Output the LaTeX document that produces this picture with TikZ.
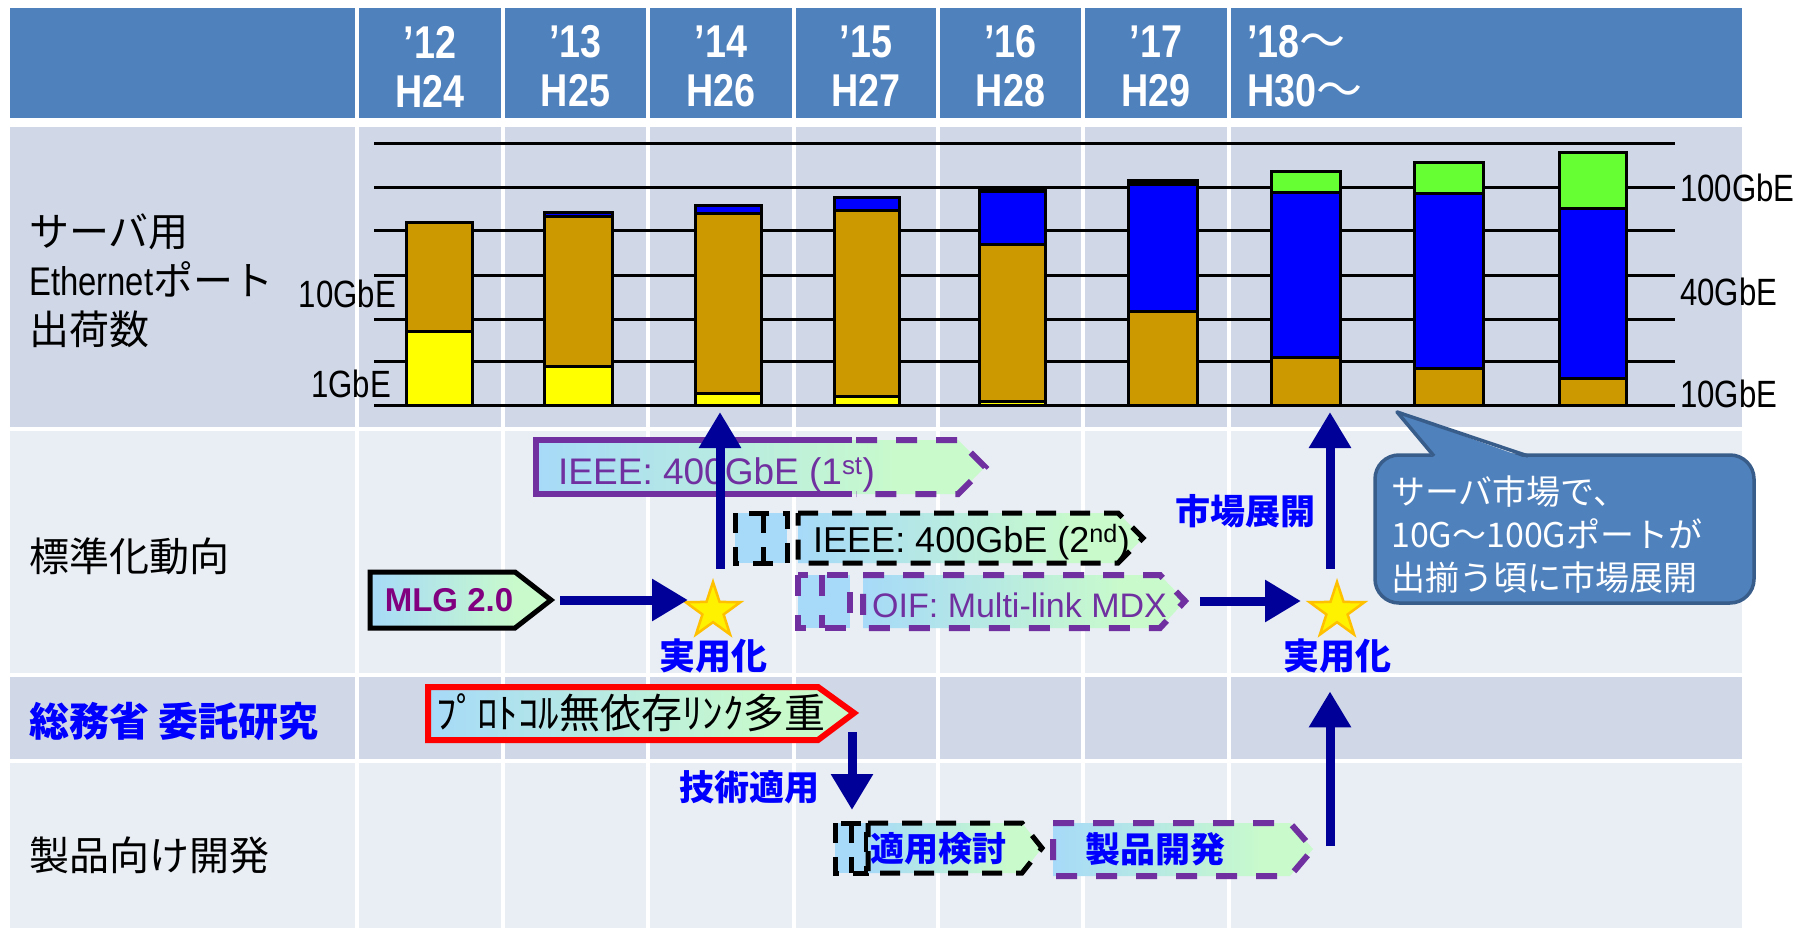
\documentclass[tikz,border=0pt]{standalone}
\usepackage{fontspec}
\setmainfont{Liberation Sans}
\newfontfamily\jp{Noto Sans CJK JP}
\newfontfamily\narrow[FakeStretch=0.82]{Liberation Sans}
\usetikzlibrary{arrows.meta,shapes.geometric}
\definecolor{hdr}{HTML}{4F81BD}
\definecolor{rowA}{HTML}{D0D8E8}
\definecolor{rowB}{HTML}{E9EDF4}
\definecolor{navy}{RGB}{0,0,153}
\definecolor{cpurple}{HTML}{7030A0}
\definecolor{mpurple}{HTML}{800080}
\definecolor{lb}{RGB}{166,218,248}
\definecolor{lg}{RGB}{200,250,204}
\definecolor{bOr}{HTML}{CC9900}
\definecolor{bYe}{HTML}{FFFF00}
\definecolor{bBl}{HTML}{0000FF}
\definecolor{bGr}{HTML}{66FF33}
\definecolor{callborder}{HTML}{385D8A}
\definecolor{starO}{HTML}{FFC000}
\pgfdeclarehorizontalshading{bluegreen}{100bp}{color(0bp)=(lb); color(25bp)=(lb); color(65bp)=(lg); color(100bp)=(lg)}
\begin{document}
\begin{tikzpicture}[x=1pt,y=-1pt,
  hd/.style={font=\narrow\bfseries\fontsize{46}{49}\selectfont, text=white, align=center, inner sep=0},
  axl/.style={font=\narrow\fontsize{38}{40}\selectfont, inner sep=0},
  lab/.style={font=\jp\fontsize{40}{49}\selectfont, inner sep=0, anchor=west, align=left},
  bl/.style={font=\jp\bfseries\fontsize{35}{40}\selectfont, text=blue, inner sep=0},
  bs/.style={draw=black, line width=3pt},
  arr/.style={draw=navy, line width=9pt, -{Triangle[length=36pt,width=40pt]}},
  boxshade/.style={shading=bluegreen},
  dashK/.style={draw=black, line width=5pt, dash pattern=on 20pt off 14pt},
  dashP/.style={draw=cpurple, line width=6pt, dash pattern=on 21pt off 19pt},
  boxtxt/.style={font=\fontsize{36}{38}\selectfont, inner sep=0, anchor=base west},
  starnode/.style={star, star points=5, star point ratio=2.6, minimum size=58pt, draw=starO, fill=yellow, line width=2.5pt, inner sep=0}
]
\useasboundingbox (0,0) rectangle (1801,928);
\fill[white] (0,0) rectangle (1801,928);
% rows
\fill[hdr] (10,8) rectangle (1742,118);
\fill[rowA] (10,127) rectangle (1742,427);
\fill[rowB] (10,431) rectangle (1742,673);
\fill[rowA] (10,677) rectangle (1742,759);
\fill[rowB] (10,763) rectangle (1742,928);
\foreach \x in {357,503,648,794,938,1083,1229}
  \draw[white, line width=3.5pt] (\x,8) -- (\x,928);
% header
\node[hd] (h12) at (430,66.5) {’12\\H24};
\node[hd] (h13) at (575.5,66.5) {’13\\H25};
\node[hd] (h14) at (721,66.5) {’14\\H26};
\node[hd] (h15) at (866,66.5) {’15\\H27};
\node[hd] (h16) at (1010.5,66.5) {’16\\H28};
\node[hd] (h17) at (1156,66.5) {’17\\H29};
\node[hd, align=left, anchor=west] (h18) at (1247,66.5) {’18{\jp\mdseries〜}\\H30{\jp\mdseries〜}};
% gridlines
\foreach \y in {144,188,230,275,319,361,405}
  \draw[line width=3pt] (374,\y) -- (1675,\y);
% bars
\draw[bs,fill=bYe] (406,405) rectangle (472,331);
\draw[bs,fill=bOr] (406,331) rectangle (472,222);
\draw[bs,fill=bYe] (544,405) rectangle (612,366);
\draw[bs,fill=bOr] (544,366) rectangle (612,217);
\draw[bs,fill=bBl] (544,217) rectangle (612,213);
\draw[bs,fill=bYe] (695,405) rectangle (761,393);
\draw[bs,fill=bOr] (695,393) rectangle (761,214);
\draw[bs,fill=bBl] (695,214) rectangle (761,206);
\draw[bs,fill=bYe] (834,405) rectangle (899,396);
\draw[bs,fill=bOr] (834,396) rectangle (899,211);
\draw[bs,fill=bBl] (834,211) rectangle (899,198);
\draw[bs,fill=bYe] (979,405) rectangle (1045,401);
\draw[bs,fill=bOr] (979,401) rectangle (1045,244);
\draw[bs,fill=bBl] (979,244) rectangle (1045,192);
\draw[bs,fill=black] (979,192) rectangle (1045,189);
\draw[bs,fill=bOr] (1128,405) rectangle (1197,311);
\draw[bs,fill=bBl] (1128,311) rectangle (1197,185);
\draw[bs,fill=black] (1128,185) rectangle (1197,181);
\draw[bs,fill=bOr] (1271,405) rectangle (1340,357);
\draw[bs,fill=bBl] (1271,357) rectangle (1340,193);
\draw[bs,fill=bGr] (1271,193) rectangle (1340,172);
\draw[bs,fill=bOr] (1414,405) rectangle (1483,368);
\draw[bs,fill=bBl] (1414,368) rectangle (1483,194);
\draw[bs,fill=bGr] (1414,194) rectangle (1483,163);
\draw[bs,fill=bOr] (1559,405) rectangle (1626,378);
\draw[bs,fill=bBl] (1559,378) rectangle (1626,209);
\draw[bs,fill=bGr] (1559,209) rectangle (1626,153);
% axis labels
\node[axl, anchor=base east] (l10) at (396,307) {10GbE};
\node[axl, anchor=base east] (l1) at (391,397) {1GbE};
\node[axl, anchor=base west] (r100) at (1680,202) {100GbE};
\node[axl, anchor=base west] (r40) at (1680,305) {40GbE};
\node[axl, anchor=base west] (r10) at (1680,407) {10GbE};
% row labels
\node[lab] (lserver) at (29,281) {サーバ用\\{\narrow Ethernet}ポート\\出荷数};
\node[lab] (lstd) at (29,556) {標準化動向};
\node[lab, font=\jp\bfseries\fontsize{40}{49}\selectfont, text=blue] (lmic) at (29,721) {総務省 委託研究};
\node[lab] (lprod) at (29,855) {製品向け開発};
% MLG box
\shadedraw[boxshade, draw=black, line width=5pt] (370,572) -- (515,572) -- (551,600) -- (515,628) -- (370,628) -- cycle;
\coordinate (mlgtip) at (551,600);
\node[font=\bfseries\fontsize{33}{35}\selectfont, text=mpurple, inner sep=0] (mlg) at (449,600) {MLG 2.0};
% IEEE 1st
\shade[boxshade] (536,440) -- (958,440) -- (985,467) -- (958,494) -- (536,494) -- cycle;
\draw[cpurple, line width=6pt] (852,440) -- (536,440) -- (536,494) -- (852,494);
\draw[dashP] (856,440) -- (958,440) -- (985,467) -- (958,494) -- (856,494);
\node[boxtxt, text=cpurple, font=\fontsize{37}{38}\selectfont] (ieee1) at (558,484) {IEEE: 400GbE (1\textsuperscript{st})};
% IEEE 2nd
\draw[dashK, fill=lb] (735,513) rectangle (787,563);
\draw[dashK] (763,513) -- (763,563);
\shadedraw[boxshade, dashK] (798,513) -- (1118,513) -- (1143,538) -- (1118,563) -- (798,563) -- cycle;
\node[boxtxt, text=black] (ieee2) at (813,552) {IEEE: 400GbE (2\textsuperscript{nd})};
% OIF
\draw[dashP, fill=lb] (798,575) rectangle (850,628);
\draw[dashP] (822,575) -- (822,628);
\shadedraw[boxshade, dashP] (863,575) -- (1160,575) -- (1185,601) -- (1160,628) -- (863,628) -- cycle;
\coordinate (oiftip) at (1185,601);
\node[boxtxt, text=cpurple, font=\fontsize{34}{36}\selectfont] (oif) at (872,617) {OIF: Multi-link MDX};
% protocol box
\shadedraw[boxshade, draw=red, line width=6pt] (428,687) -- (818,687) -- (854,713) -- (818,740) -- (428,740) -- cycle;
\coordinate (prototip) at (852,713);
\node[font=\jp\fontsize{41}{44}\selectfont, inner sep=0, anchor=west] (proto) at (436,713) {ﾌﾟﾛﾄｺﾙ無依存ﾘﾝｸ多重};
% kentou box
\draw[dashK, fill=lb] (835,823) rectangle (866,873);
\draw[dashK] (851,823) -- (851,873);
\shadedraw[boxshade, dashK] (868,823) -- (1022,823) -- (1042,848) -- (1022,873) -- (868,873) -- cycle;
\coordinate (ktop) at (852,823);
\node[bl, font=\jp\bfseries\fontsize{34}{40}\selectfont] (kentou) at (938,849) {適用検討};
% seihin box
\shadedraw[boxshade, dashP] (1053,823) -- (1290,823) -- (1313,849) -- (1290,876) -- (1053,876) -- cycle;
\coordinate (seihinR) at (1330,846);
\node[bl] (seihin) at (1155,849) {製品開発};
% stars and labels
\node[starnode] (star1) at (713,611) {};
\node[starnode] (star2) at (1337,611) {};
\node[bl, font=\jp\bfseries\fontsize{36}{40}\selectfont] (jy1) at (713,656) {実用化};
\node[bl, font=\jp\bfseries\fontsize{36}{40}\selectfont] (jy2) at (1337,656) {実用化};
\node[bl] (mkt) at (1245,511) {市場展開};
\node[bl] (gijutsu) at (749,787) {技術適用};
% chart targets
\coordinate (chart1) at (720,412);
\coordinate (chart2) at (1330,412);
% arrows
\draw[arr, shorten <=9pt, shorten >=25pt] (mlgtip) -- (mlgtip -| star1.center);
\draw[arr, shorten <=9pt] (star1.north -| chart1) -- (chart1);
\draw[arr, shorten <=15pt, shorten >=36pt] (oiftip) -- (oiftip -| star2.center);
\draw[arr, shorten <=9pt] (star2.north -| chart2) -- (chart2);
\draw[arr, shorten <=19pt, shorten >=13pt] (prototip) -- (prototip |- ktop);
\draw[arr, shorten >=18pt] (seihinR) -- (seihinR |- jy2.south);
% callout
\draw[fill=hdr, draw=callborder, line width=3.5pt, rounded corners=24pt] (1375,455) rectangle (1754,603);
\fill[hdr] (1434,459) -- (1397,412) -- (1528,459) -- cycle;
\draw[callborder, line width=3.5pt, line join=round] (1434,456) -- (1397,412) -- (1528,456);
\node[font=\jp\fontsize{34}{43}\selectfont, text=white, align=left, anchor=west, inner sep=0] (calltxt) at (1391,535) {サーバ市場で、\\10G〜100Gポートが\\出揃う頃に市場展開};
\end{tikzpicture}
\end{document}
